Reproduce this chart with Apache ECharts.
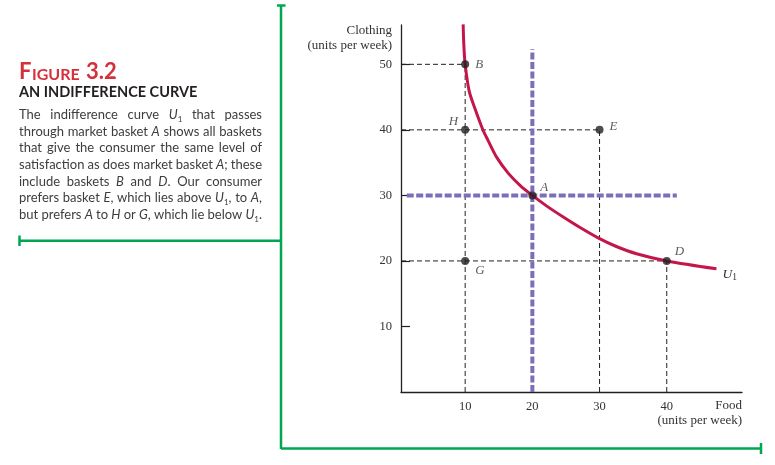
<!DOCTYPE html>
<html>
<head>
<meta charset="utf-8">
<script src="https://cdn.jsdelivr.net/npm/echarts@6/dist/echarts.min.js"></script>
<style>
html,body{margin:0;padding:0;background:#fff;}
#chart{width:775px;height:465px;}
</style>
</head>
<body>
<div id="chart"></div>
<script>
// ---------- data ----------
const basketNames = ['A', 'B', 'D', 'E', 'G', 'H'];
const basketFood = [20, 10, 40, 30, 10, 10];
const basketClothing = [30, 50, 20, 40, 20, 40];

const curveFood = [9.7, 9.8, 10, 10.6, 11.4, 12.6, 13.4, 14.7, 16.4, 18.2, 20, 22.1, 24.6, 27.1, 30, 32.5, 35.5, 40, 47.4];
const curveClothing = [56.1, 53, 50, 45.9, 43.4, 40.1, 38.4, 35.8, 33.4, 31.5, 30, 28.4, 26.7, 25.1, 23.4, 22.2, 21.1, 20, 18.8];

// black dashed guides from the axes to the baskets
const guideHClothing = [50, 40, 20];
const guideHFoodEnd = [10, 30, 40];
const guideVFood = [10, 30, 40];
const guideVClothingEnd = [50, 40, 20];

// purple reference lines through A
const refVFood = 20, refVTop = 52.3;
const refHClothing = 30, refHRight = 41.5;

const xTicks = [10, 20, 30, 40];
const yTicks = [10, 20, 30, 40, 50];

const captionSub = 'AN INDIFFERENCE CURVE';
const captionLines = [
  'The indifference curve *U*_1_ that passes',
  'through market basket *A* shows all baskets',
  'that give the consumer the same level of',
  'satisfaction as does market basket *A*; these',
  'include baskets *B* and *D*. Our consumer',
  'prefers basket *E*, which lies above *U*_1_, to *A*,',
  'but prefers *A* to *H* or *G*, which lie below *U*_1_.'
];

// ---------- styles ----------
const X_MIN = 0.45, X_MAX = 51.2, Y_MIN = 0, Y_MAX = 56;
const serif = '"Liberation Serif", "DejaVu Serif", serif';
const sans = 'Lato, "Open Sans", sans-serif';
const ink = '#231f20';
const green = '#00a651';
const purple = '#7b70b8';
const crimson = '#c4164a';

const labelPos = {
  A: {position: 'right', distance: 4, offset: [0, -8]},
  B: {position: 'right', distance: 6, offset: [0, 0]},
  D: {position: 'right', distance: 4, offset: [0, -9]},
  E: {position: 'right', distance: 6, offset: [0, -3]},
  G: {position: 'right', distance: 6, offset: [0, 10]},
  H: {position: 'left', distance: 3, offset: [0, -8]}
};

// ---------- caption layout (justified) ----------
const mctx = document.createElement('canvas').getContext('2d');
function fontOf(kind, size) {
  if (kind === 'i') return 'italic ' + size + 'px ' + sans;
  if (kind === 'sub') return Math.round(size * 0.62) + 'px ' + sans;
  return size + 'px ' + sans;
}
function measure(text, font) { mctx.font = font; return mctx.measureText(text).width; }
function parseWord(w) {
  const segs = []; let kind = 'n'; let buf = '';
  for (const ch of w) {
    if (ch === '*' || ch === '_') {
      if (buf) segs.push({t: buf, k: kind});
      buf = '';
      const k = ch === '*' ? 'i' : 'sub';
      kind = (kind === k) ? 'n' : k;
    } else buf += ch;
  }
  if (buf) segs.push({t: buf, k: kind});
  return segs;
}
function txt(text, x, y, font, fill) {
  return {type: 'text', silent: true,
    style: {text: text, x: x, y: y, font: font, fill: fill,
            textAlign: 'left', textVerticalAlign: 'bottom', align: 'left', verticalAlign: 'bottom'}};
}
function buildCaption() {
  const els = [];
  const size = 13, left = 19, right = 262, base0 = 121.5, lh = 16.6;
  captionLines.forEach((line, i) => {
    const words = line.split(' ').map(parseWord);
    const widths = words.map(w => w.reduce((a, s) => a + measure(s.t, fontOf(s.k, size)), 0));
    const total = widths.reduce((a, b) => a + b, 0);
    const gap = (right - left - total) / (words.length - 1);
    const yb = base0 + i * lh;
    let x = left;
    words.forEach((w, k) => {
      let sx = x;
      w.forEach(s => {
        const f = fontOf(s.k, size);
        els.push(txt(s.t, sx, s.k === 'sub' ? yb + 2 : yb, f, '#3d3d3d'));
        sx += measure(s.t, f);
      });
      x += widths[k] + gap;
    });
  });
  // title "FIGURE 3.2" in small caps
  const red = '#d5313b';
  const parts = [['F', 22], ['IGURE', 16], [' 3.2', 22]];
  let tx = 19;
  parts.forEach(p => {
    const f = 'bold ' + p[1] + 'px ' + sans;
    els.push(txt(p[0], tx, 83, f, red));
    tx += measure(p[0], f) + (p[0] === 'F' ? 0.5 : 1);
  });
  els.push(txt(captionSub, 19, 99.5, 'bold 14.5px ' + sans, ink));
  return els;
}

// ---------- series ----------
const series = [];
function seg(data, color, width, dash, z) {
  series.push({type: 'line', data: data, symbol: 'none', silent: true, z: z, animation: false,
    lineStyle: {color: color, width: width, type: dash, cap: 'butt'}});
}
guideHClothing.forEach((c, i) => seg([[X_MIN, c], [guideHFoodEnd[i], c]], ink, 1, [5, 3], 2));
guideVFood.forEach((f, i) => seg([[f, Y_MIN], [f, guideVClothingEnd[i]]], ink, 1, [5, 3], 2));
seg([[refVFood, Y_MIN], [refVFood, refVTop]], purple, 4, [7, 2.5], 3);
seg([[1.3, refHClothing], [refHRight, refHClothing]], purple, 4, [7, 2.5], 3);

series.push({type: 'line', data: curveFood.map((f, i) => [f, curveClothing[i]]),
  smooth: 0.3, symbol: 'none', z: 4, animation: false,
  lineStyle: {color: crimson, width: 3},
  endLabel: {show: true, distance: 6, offset: [0, 6],
    formatter: '{u|U}{s|1}',
    rich: {u: {fontFamily: serif, fontStyle: 'italic', fontSize: 13.5, color: '#333'},
           s: {fontFamily: serif, fontSize: 9.5, color: '#333', padding: [6, 0, 0, 0]}}}
});

series.push({type: 'scatter', z: 5, animation: false, symbolSize: 8,
  itemStyle: {color: ink},
  data: basketNames.map((n, i) => ({
    name: n, value: [basketFood[i], basketClothing[i]],
    label: Object.assign({show: true, formatter: n, fontFamily: serif, fontStyle: 'italic', fontSize: 13, color: '#333'}, labelPos[n])
  }))
});

// ---------- chart ----------
const chart = echarts.init(document.getElementById('chart'), null, {renderer: 'canvas'});
const nameStyle = (t, x, y) => ({type: 'text', silent: true,
  style: {text: t, x: x, y: y, font: '13px ' + serif, fill: '#333', textAlign: 'right', textVerticalAlign: 'middle', align: 'right', verticalAlign: 'middle'}});
const gline = (x1, y1, x2, y2) => ({type: 'line', silent: true, shape: {x1: x1, y1: y1, x2: x2, y2: y2}, style: {stroke: green, lineWidth: 2.5}});
chart.setOption({
  backgroundColor: '#fff',
  animation: false,
  grid: {left: 401, right: 33, top: 25, bottom: 73, containLabel: false, outerBoundsMode: 'none'},
  xAxis: {
    type: 'value', min: X_MIN, max: X_MAX,
    axisLine: {show: true, lineStyle: {color: ink, width: 1.3}},
    axisTick: {show: false},
    splitLine: {show: false},
    axisLabel: {customValues: xTicks, margin: 8, fontFamily: serif, fontSize: 12.5, color: '#333'}
  },
  yAxis: {
    type: 'value', min: Y_MIN, max: Y_MAX,
    axisLine: {show: true, lineStyle: {color: ink, width: 1.3}},
    axisTick: {show: true, inside: true, length: 9, customValues: yTicks, lineStyle: {color: ink, width: 1.2}},
    splitLine: {show: false},
    axisLabel: {customValues: yTicks, margin: 9, fontFamily: serif, fontSize: 12.5, color: '#333'}
  },
  series: series,
  graphic: [
    gline(281, 5, 281, 449),
    gline(277, 5.5, 285.5, 5.5),
    gline(19, 240.7, 281, 240.7),
    gline(19.5, 235.5, 19.5, 246),
    gline(281, 448.5, 761, 448.5),
    gline(761, 443, 761, 454),
    nameStyle('Clothing', 392, 31),
    nameStyle('(units per week)', 392, 46),
    nameStyle('Food', 742, 406),
    nameStyle('(units per week)', 742, 421)
  ].concat(buildCaption())
});
</script>
</body>
</html>
